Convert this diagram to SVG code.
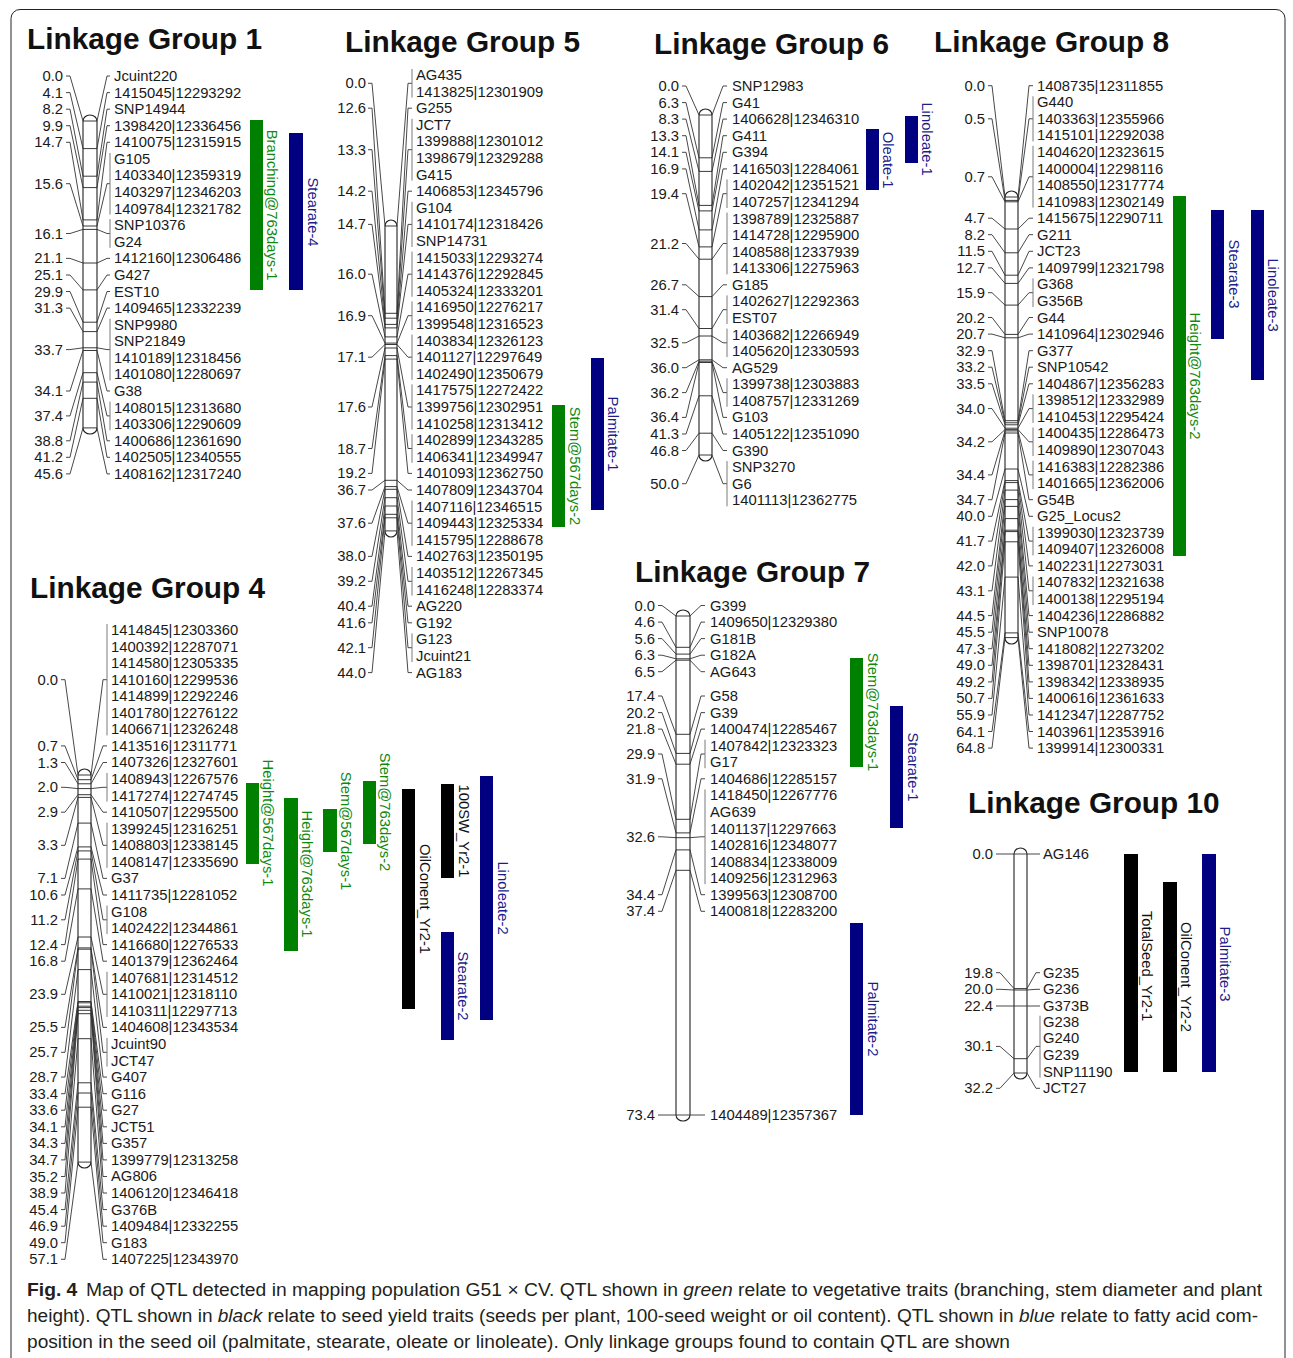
<svg xmlns="http://www.w3.org/2000/svg" width="1293" height="1358" viewBox="0 0 1293 1358">
<style>
text{font-family:"Liberation Sans",Arial,sans-serif}
.t{font-size:14.8px;fill:#1a1a1a;dominant-baseline:central}
.n{font-size:14.8px;fill:#1a1a1a;dominant-baseline:central;text-anchor:end}
.h{font-size:29.8px;font-weight:bold;fill:#111}
.q{font-size:14.8px;text-anchor:middle;dominant-baseline:central}
.qg{fill:#0f8a0f}.qb{fill:#1c1c8c}.qk{fill:#111}
.rg{fill:#008000}.rb{fill:#000080}.rk{fill:#000}
.cn{fill:none;stroke:#333;stroke-width:0.9}
.gl{fill:none;stroke:#7a7a7a;stroke-width:1}
.bar{fill:#fff;stroke:#222;stroke-width:1.1}
.tk{fill:none;stroke:#222;stroke-width:0.9}
.cap{font-family:"Liberation Sans",Arial,sans-serif;font-size:18px;fill:#231f20}
</style>
<rect x="11" y="9.5" width="1274" height="1370" rx="9" fill="none" stroke="#222" stroke-width="1"/>

<!-- Linkage Group 1 -->
<g id="lg1">
<text class="h" x="27" y="49">Linkage Group 1</text>
<rect class="bar" x="83" y="115" width="14" height="319" rx="7" ry="6"/>
<path class="tk" d="M83 121H97M83 148.6H97M83 176.2H97M83 187.6H97M83 219.9H97M83 226H97M83 229.4H97M83 263H97M83 289.9H97M83 322.2H97M83 331.6H97M83 347.8H97M83 350.5H97M83 372.7H97M83 382.1H97M83 398.3H97M83 427.9H97"/>
<g id="lg1-connectors">
<path class="cn" d="M66 76H70L83 121M66 92.6H70L83 148.6M66 109.2H70L83 176.2M66 125.7H70L83 187.6M66 142.3H70L83 219.9M66 183.7H70L83 226M66 233.5H70L83 229.4M66 258.4H70L83 263M66 275H70L83 289.9M66 291.5H70L83 322.2M66 308.1H70L83 331.6M66 349.6H70L83 347.8M66 391H70L83 350.5M66 415.9H70L83 372.7M66 440.8H70L83 382.1M66 457.3H70L83 398.3M66 473.9H70L83 427.9"/>
<path class="cn" d="M97 121L107 76H110M97 148.6L107 92.6H110M97 176.2L107 109.2H110M97 187.6L107 125.7H110M97 219.9L107 142.3H110M97 226L107 183.7H110M97 229.4L107 233.5H110M97 263L107 258.4H110M97 289.9L107 275H110M97 322.2L107 291.5H110M97 331.6L107 308.1H110M97 347.8L107 349.6H110M97 350.5L107 391H110M97 372.7L107 415.9H110M97 382.1L107 440.8H110M97 398.3L107 457.3H110M97 427.9L107 473.9H110"/>
<path class="gl" d="M110 153V214.6M110 219V247.8M110 318.7V380.4M110 401.6V430.2"/>
</g>
<text class="n" x="63" y="76">0.0</text><text class="n" x="63" y="92.6">4.1</text><text class="n" x="63" y="109.2">8.2</text><text class="n" x="63" y="125.7">9.9</text><text class="n" x="63" y="142.3">14.7</text><text class="n" x="63" y="183.7">15.6</text><text class="n" x="63" y="233.5">16.1</text><text class="n" x="63" y="258.4">21.1</text><text class="n" x="63" y="275">25.1</text><text class="n" x="63" y="291.5">29.9</text><text class="n" x="63" y="308.1">31.3</text><text class="n" x="63" y="349.6">33.7</text><text class="n" x="63" y="391">34.1</text><text class="n" x="63" y="415.9">37.4</text><text class="n" x="63" y="440.8">38.8</text><text class="n" x="63" y="457.3">41.2</text><text class="n" x="63" y="473.9">45.6</text>
<text class="t" x="114" y="76"><tspan x="114">Jcuint220</tspan><tspan x="114" dy="16.58">1415045|12293292</tspan><tspan x="114" dy="16.58">SNP14944</tspan><tspan x="114" dy="16.58">1398420|12336456</tspan><tspan x="114" dy="16.58">1410075|12315915</tspan><tspan x="114" dy="16.58">G105</tspan><tspan x="114" dy="16.58">1403340|12359319</tspan><tspan x="114" dy="16.58">1403297|12346203</tspan><tspan x="114" dy="16.58">1409784|12321782</tspan><tspan x="114" dy="16.58">SNP10376</tspan><tspan x="114" dy="16.58">G24</tspan><tspan x="114" dy="16.58">1412160|12306486</tspan><tspan x="114" dy="16.58">G427</tspan><tspan x="114" dy="16.58">EST10</tspan><tspan x="114" dy="16.58">1409465|12332239</tspan><tspan x="114" dy="16.58">SNP9980</tspan><tspan x="114" dy="16.58">SNP21849</tspan><tspan x="114" dy="16.58">1410189|12318456</tspan><tspan x="114" dy="16.58">1401080|12280697</tspan><tspan x="114" dy="16.58">G38</tspan><tspan x="114" dy="16.58">1408015|12313680</tspan><tspan x="114" dy="16.58">1403306|12290609</tspan><tspan x="114" dy="16.58">1400686|12361690</tspan><tspan x="114" dy="16.58">1402505|12340555</tspan><tspan x="114" dy="16.58">1408162|12317240</tspan></text>
<rect class="rg" x="250" y="120" width="13" height="170"/>
<text class="q qg" transform="translate(272 205) rotate(90)">Branching@763days-1</text>
<rect class="rb" x="289" y="133" width="14" height="157"/>
<text class="q qb" transform="translate(313 212) rotate(90)">Stearate-4</text>
</g>

<!-- Linkage Group 5 -->
<g id="lg5">
<text class="h" x="345" y="52">Linkage Group 5</text>
<rect class="bar" x="385" y="220" width="12" height="317" rx="6" ry="6"/>
<path class="tk" d="M385 226H397M385 313.3H397M385 318.2H397M385 324.4H397M385 327.9H397M385 336.9H397M385 343.1H397M385 344.5H397M385 348H397M385 355.6H397M385 359.1H397M385 480.3H397M385 486.6H397M385 489.3H397M385 497.7H397M385 506H397M385 514.3H397M385 517.8H397M385 530.9H397"/>
<g id="lg5-connectors">
<path class="cn" d="M368 83.3H372L385 226M368 108.2H372L385 313.3M368 149.7H372L385 318.2M368 191.2H372L385 324.4M368 224.4H372L385 327.9M368 274.2H372L385 336.9M368 315.7H372L385 343.1M368 357.2H372L385 344.5M368 407H372L385 348M368 448.5H372L385 355.6M368 473.4H372L385 359.1M368 490H372L385 480.3M368 523.2H372L385 486.6M368 556.4H372L385 489.3M368 581.3H372L385 497.7M368 606.2H372L385 506M368 622.8H372L385 514.3M368 647.7H372L385 517.8M368 672.6H372L385 530.9"/>
<path class="cn" d="M397 226L408 83.3H412M397 313.3L408 108.2H412M397 318.2L408 149.7H412M397 324.4L408 191.2H412M397 327.9L408 224.4H412M397 336.9L408 274.2H412M397 343.1L408 315.7H412M397 344.5L408 357.2H412M397 348L408 407H412M397 355.6L408 448.5H412M397 359.1L408 473.4H412M397 480.3L408 490H412M397 486.6L408 523.2H412M397 489.3L408 556.4H412M397 497.7L408 581.3H412M397 506L408 606.2H412M397 514.3L408 622.8H412M397 517.8L408 647.7H412M397 530.9L408 672.6H412"/>
<path class="gl" d="M412 69V97.6M412 118.8V180.6M412 201.8V247M412 251.6V296.8M412 301.4V330M412 334.6V379.8M412 384.4V429.6M412 434.2V462.8M412 500.6V545.8M412 567V595.6M412 633.4V662"/>
</g>
<text class="n" x="366" y="83.3">0.0</text><text class="n" x="366" y="108.2">12.6</text><text class="n" x="366" y="149.7">13.3</text><text class="n" x="366" y="191.2">14.2</text><text class="n" x="366" y="224.4">14.7</text><text class="n" x="366" y="274.2">16.0</text><text class="n" x="366" y="315.7">16.9</text><text class="n" x="366" y="357.2">17.1</text><text class="n" x="366" y="407">17.6</text><text class="n" x="366" y="448.5">18.7</text><text class="n" x="366" y="473.4">19.2</text><text class="n" x="366" y="490">36.7</text><text class="n" x="366" y="523.2">37.6</text><text class="n" x="366" y="556.4">38.0</text><text class="n" x="366" y="581.3">39.2</text><text class="n" x="366" y="606.2">40.4</text><text class="n" x="366" y="622.8">41.6</text><text class="n" x="366" y="647.7">42.1</text><text class="n" x="366" y="672.6">44.0</text>
<text class="t" x="416" y="75"><tspan x="416">AG435</tspan><tspan x="416" dy="16.6">1413825|12301909</tspan><tspan x="416" dy="16.6">G255</tspan><tspan x="416" dy="16.6">JCT7</tspan><tspan x="416" dy="16.6">1399888|12301012</tspan><tspan x="416" dy="16.6">1398679|12329288</tspan><tspan x="416" dy="16.6">G415</tspan><tspan x="416" dy="16.6">1406853|12345796</tspan><tspan x="416" dy="16.6">G104</tspan><tspan x="416" dy="16.6">1410174|12318426</tspan><tspan x="416" dy="16.6">SNP14731</tspan><tspan x="416" dy="16.6">1415033|12293274</tspan><tspan x="416" dy="16.6">1414376|12292845</tspan><tspan x="416" dy="16.6">1405324|12333201</tspan><tspan x="416" dy="16.6">1416950|12276217</tspan><tspan x="416" dy="16.6">1399548|12316523</tspan><tspan x="416" dy="16.6">1403834|12326123</tspan><tspan x="416" dy="16.6">1401127|12297649</tspan><tspan x="416" dy="16.6">1402490|12350679</tspan><tspan x="416" dy="16.6">1417575|12272422</tspan><tspan x="416" dy="16.6">1399756|12302951</tspan><tspan x="416" dy="16.6">1410258|12313412</tspan><tspan x="416" dy="16.6">1402899|12343285</tspan><tspan x="416" dy="16.6">1406341|12349947</tspan><tspan x="416" dy="16.6">1401093|12362750</tspan><tspan x="416" dy="16.6">1407809|12343704</tspan><tspan x="416" dy="16.6">1407116|12346515</tspan><tspan x="416" dy="16.6">1409443|12325334</tspan><tspan x="416" dy="16.6">1415795|12288678</tspan><tspan x="416" dy="16.6">1402763|12350195</tspan><tspan x="416" dy="16.6">1403512|12267345</tspan><tspan x="416" dy="16.6">1416248|12283374</tspan><tspan x="416" dy="16.6">AG220</tspan><tspan x="416" dy="16.6">G192</tspan><tspan x="416" dy="16.6">G123</tspan><tspan x="416" dy="16.6">Jcuint21</tspan><tspan x="416" dy="16.6">AG183</tspan></text>
<rect class="rb" x="591" y="358" width="13" height="152"/>
<text class="q qb" transform="translate(613 434) rotate(90)">Palmitate-1</text>
<rect class="rg" x="552" y="405" width="13" height="122"/>
<text class="q qg" transform="translate(575 466) rotate(90)">Stem@567days-2</text>
</g>

<!-- Linkage Group 6 -->
<g id="lg6">
<text class="h" x="654" y="54">Linkage Group 6</text>
<rect class="bar" x="699" y="109" width="13" height="352" rx="6.5" ry="6"/>
<path class="tk" d="M699 115H712M699 157.8H712M699 171.4H712M699 205.4H712M699 210.9H712M699 229.9H712M699 246.9H712M699 259.2H712M699 296.6H712M699 328.5H712M699 336H712M699 359.8H712M699 361.2H712M699 362.5H712M699 395.8H712M699 433.2H712M699 455H712"/>
<g id="lg6-connectors">
<path class="cn" d="M682 86H686L699 115M682 102.6H686L699 157.8M682 119.1H686L699 171.4M682 135.7H686L699 205.4M682 152.3H686L699 210.9M682 168.9H686L699 229.9M682 193.7H686L699 246.9M682 243.5H686L699 259.2M682 284.8H686L699 296.6M682 309.7H686L699 328.5M682 342.8H686L699 336M682 367.7H686L699 359.8M682 392.6H686L699 361.2M682 417.4H686L699 362.5M682 434H686L699 395.8M682 450.5H686L699 433.2M682 483.7H686L699 455"/>
<path class="cn" d="M712 115L723 86H727M712 157.8L723 102.6H727M712 171.4L723 119.1H727M712 205.4L723 135.7H727M712 210.9L723 152.3H727M712 229.9L723 168.9H727M712 246.9L723 193.7H727M712 259.2L723 243.5H727M712 296.6L723 284.8H727M712 328.5L723 309.7H727M712 336L723 342.8H727M712 359.8L723 367.7H727M712 361.2L723 392.6H727M712 362.5L723 417.4H727M712 395.8L723 434H727M712 433.2L723 450.5H727M712 455L723 483.7H727"/>
<path class="gl" d="M727 179.4V208M727 212.6V274.3M727 295.4V324M727 328.6V357.1M727 378.3V406.8M727 461.1V506.3"/>
</g>
<text class="n" x="679" y="86">0.0</text><text class="n" x="679" y="102.6">6.3</text><text class="n" x="679" y="119.1">8.3</text><text class="n" x="679" y="135.7">13.3</text><text class="n" x="679" y="152.3">14.1</text><text class="n" x="679" y="168.9">16.9</text><text class="n" x="679" y="193.7">19.4</text><text class="n" x="679" y="243.5">21.2</text><text class="n" x="679" y="284.8">26.7</text><text class="n" x="679" y="309.7">31.4</text><text class="n" x="679" y="342.8">32.5</text><text class="n" x="679" y="367.7">36.0</text><text class="n" x="679" y="392.6">36.2</text><text class="n" x="679" y="417.4">36.4</text><text class="n" x="679" y="434">41.3</text><text class="n" x="679" y="450.5">46.8</text><text class="n" x="679" y="483.7">50.0</text>
<text class="t" x="732" y="86"><tspan x="732">SNP12983</tspan><tspan x="732" dy="16.57">G41</tspan><tspan x="732" dy="16.57">1406628|12346310</tspan><tspan x="732" dy="16.57">G411</tspan><tspan x="732" dy="16.57">G394</tspan><tspan x="732" dy="16.57">1416503|12284061</tspan><tspan x="732" dy="16.57">1402042|12351521</tspan><tspan x="732" dy="16.57">1407257|12341294</tspan><tspan x="732" dy="16.57">1398789|12325887</tspan><tspan x="732" dy="16.57">1414728|12295900</tspan><tspan x="732" dy="16.57">1408588|12337939</tspan><tspan x="732" dy="16.57">1413306|12275963</tspan><tspan x="732" dy="16.57">G185</tspan><tspan x="732" dy="16.57">1402627|12292363</tspan><tspan x="732" dy="16.57">EST07</tspan><tspan x="732" dy="16.57">1403682|12266949</tspan><tspan x="732" dy="16.57">1405620|12330593</tspan><tspan x="732" dy="16.57">AG529</tspan><tspan x="732" dy="16.57">1399738|12303883</tspan><tspan x="732" dy="16.57">1408757|12331269</tspan><tspan x="732" dy="16.57">G103</tspan><tspan x="732" dy="16.57">1405122|12351090</tspan><tspan x="732" dy="16.57">G390</tspan><tspan x="732" dy="16.57">SNP3270</tspan><tspan x="732" dy="16.57">G6</tspan><tspan x="732" dy="16.57">1401113|12362775</tspan></text>
<rect class="rb" x="866" y="129" width="13" height="61"/>
<text class="q qb" transform="translate(888 160) rotate(90)">Oleate-1</text>
<rect class="rb" x="905" y="116" width="13" height="47"/>
<text class="q qb" transform="translate(927 139) rotate(90)">Linoleate-1</text>
</g>

<!-- Linkage Group 8 -->
<g id="lg8">
<text class="h" x="934" y="52">Linkage Group 8</text>
<rect class="bar" x="1005" y="191" width="13" height="453" rx="6.5" ry="6"/>
<path class="tk" d="M1005 197H1018M1005 200.4H1018M1005 201.8H1018M1005 229H1018M1005 252.8H1018M1005 275.2H1018M1005 283.4H1018M1005 305.1H1018M1005 334.4H1018M1005 337.8H1018M1005 420.7H1018M1005 422.8H1018M1005 424.8H1018M1005 428.2H1018M1005 429.6H1018M1005 430.9H1018M1005 433H1018M1005 469H1018M1005 480.6H1018M1005 482.6H1018M1005 490.1H1018M1005 499.6H1018M1005 506.4H1018M1005 518.6H1018M1005 530.2H1018M1005 531.6H1018M1005 541.8H1018M1005 577.1H1018M1005 632.9H1018M1005 637.6H1018"/>
<g id="lg8-connectors">
<path class="cn" d="M988 85.7H992L1005 197M988 118.8H992L1005 200.4M988 176.8H992L1005 201.8M988 218.2H992L1005 229M988 234.7H992L1005 252.8M988 251.3H992L1005 275.2M988 267.9H992L1005 283.4M988 292.7H992L1005 305.1M988 317.5H992L1005 334.4M988 334.1H992L1005 337.8M988 350.7H992L1005 420.7M988 367.2H992L1005 422.8M988 383.8H992L1005 424.8M988 408.6H992L1005 428.2M988 441.8H992L1005 429.6M988 474.9H992L1005 430.9M988 499.7H992L1005 433M988 516.3H992L1005 469M988 541.1H992L1005 480.6M988 565.9H992L1005 482.6M988 590.8H992L1005 490.1M988 615.6H992L1005 499.6M988 632.2H992L1005 506.4M988 648.7H992L1005 518.6M988 665.3H992L1005 530.2M988 681.9H992L1005 531.6M988 698.4H992L1005 541.8M988 715H992L1005 577.1M988 731.5H992L1005 632.9M988 748.1H992L1005 637.6"/>
<path class="cn" d="M1018 197L1029 85.7H1033M1018 200.4L1029 118.8H1033M1018 201.8L1029 176.8H1033M1018 229L1029 218.2H1033M1018 252.8L1029 234.7H1033M1018 275.2L1029 251.3H1033M1018 283.4L1029 267.9H1033M1018 305.1L1029 292.7H1033M1018 334.4L1029 317.5H1033M1018 337.8L1029 334.1H1033M1018 420.7L1029 350.7H1033M1018 422.8L1029 367.2H1033M1018 424.8L1029 383.8H1033M1018 428.2L1029 408.6H1033M1018 429.6L1029 441.8H1033M1018 430.9L1029 474.9H1033M1018 433L1029 499.7H1033M1018 469L1029 516.3H1033M1018 480.6L1029 541.1H1033M1018 482.6L1029 565.9H1033M1018 490.1L1029 590.8H1033M1018 499.6L1029 615.6H1033M1018 506.4L1029 632.2H1033M1018 518.6L1029 648.7H1033M1018 530.2L1029 665.3H1033M1018 531.6L1029 681.9H1033M1018 541.8L1029 698.4H1033M1018 577.1L1029 715H1033M1018 632.9L1029 731.5H1033M1018 637.6L1029 748.1H1033"/>
<path class="gl" d="M1033 96.3V141.4M1033 145.9V207.6M1033 278.4V307M1033 394.3V422.9M1033 427.5V456M1033 460.6V489.1M1033 526.8V555.4M1033 576.5V605.1"/>
</g>
<text class="n" x="985" y="85.7">0.0</text><text class="n" x="985" y="118.8">0.5</text><text class="n" x="985" y="176.8">0.7</text><text class="n" x="985" y="218.2">4.7</text><text class="n" x="985" y="234.7">8.2</text><text class="n" x="985" y="251.3">11.5</text><text class="n" x="985" y="267.9">12.7</text><text class="n" x="985" y="292.7">15.9</text><text class="n" x="985" y="317.5">20.2</text><text class="n" x="985" y="334.1">20.7</text><text class="n" x="985" y="350.7">32.9</text><text class="n" x="985" y="367.2">33.2</text><text class="n" x="985" y="383.8">33.5</text><text class="n" x="985" y="408.6">34.0</text><text class="n" x="985" y="441.8">34.2</text><text class="n" x="985" y="474.9">34.4</text><text class="n" x="985" y="499.7">34.7</text><text class="n" x="985" y="516.3">40.0</text><text class="n" x="985" y="541.1">41.7</text><text class="n" x="985" y="565.9">42.0</text><text class="n" x="985" y="590.8">43.1</text><text class="n" x="985" y="615.6">44.5</text><text class="n" x="985" y="632.2">45.5</text><text class="n" x="985" y="648.7">47.3</text><text class="n" x="985" y="665.3">49.0</text><text class="n" x="985" y="681.9">49.2</text><text class="n" x="985" y="698.4">50.7</text><text class="n" x="985" y="715">55.9</text><text class="n" x="985" y="731.5">64.1</text><text class="n" x="985" y="748.1">64.8</text>
<text class="t" x="1037" y="85.7"><tspan x="1037">1408735|12311855</tspan><tspan x="1037" dy="16.56">G440</tspan><tspan x="1037" dy="16.56">1403363|12355966</tspan><tspan x="1037" dy="16.56">1415101|12292038</tspan><tspan x="1037" dy="16.56">1404620|12323615</tspan><tspan x="1037" dy="16.56">1400004|12298116</tspan><tspan x="1037" dy="16.56">1408550|12317774</tspan><tspan x="1037" dy="16.56">1410983|12302149</tspan><tspan x="1037" dy="16.56">1415675|12290711</tspan><tspan x="1037" dy="16.56">G211</tspan><tspan x="1037" dy="16.56">JCT23</tspan><tspan x="1037" dy="16.56">1409799|12321798</tspan><tspan x="1037" dy="16.56">G368</tspan><tspan x="1037" dy="16.56">G356B</tspan><tspan x="1037" dy="16.56">G44</tspan><tspan x="1037" dy="16.56">1410964|12302946</tspan><tspan x="1037" dy="16.56">G377</tspan><tspan x="1037" dy="16.56">SNP10542</tspan><tspan x="1037" dy="16.56">1404867|12356283</tspan><tspan x="1037" dy="16.56">1398512|12332989</tspan><tspan x="1037" dy="16.56">1410453|12295424</tspan><tspan x="1037" dy="16.56">1400435|12286473</tspan><tspan x="1037" dy="16.56">1409890|12307043</tspan><tspan x="1037" dy="16.56">1416383|12282386</tspan><tspan x="1037" dy="16.56">1401665|12362006</tspan><tspan x="1037" dy="16.56">G54B</tspan><tspan x="1037" dy="16.56">G25_Locus2</tspan><tspan x="1037" dy="16.56">1399030|12323739</tspan><tspan x="1037" dy="16.56">1409407|12326008</tspan><tspan x="1037" dy="16.56">1402231|12273031</tspan><tspan x="1037" dy="16.56">1407832|12321638</tspan><tspan x="1037" dy="16.56">1400138|12295194</tspan><tspan x="1037" dy="16.56">1404236|12286882</tspan><tspan x="1037" dy="16.56">SNP10078</tspan><tspan x="1037" dy="16.56">1418082|12273202</tspan><tspan x="1037" dy="16.56">1398701|12328431</tspan><tspan x="1037" dy="16.56">1398342|12338935</tspan><tspan x="1037" dy="16.56">1400616|12361633</tspan><tspan x="1037" dy="16.56">1412347|12287752</tspan><tspan x="1037" dy="16.56">1403961|12353916</tspan><tspan x="1037" dy="16.56">1399914|12300331</tspan></text>
<rect class="rg" x="1173" y="196" width="13" height="360"/>
<text class="q qg" transform="translate(1195 376) rotate(90)">Height@763days-2</text>
<rect class="rb" x="1211" y="210" width="13" height="129"/>
<text class="q qb" transform="translate(1234 274) rotate(90)">Stearate-3</text>
<rect class="rb" x="1251" y="210" width="13" height="170"/>
<text class="q qb" transform="translate(1273 295) rotate(90)">Linoleate-3</text>
</g>

<!-- Linkage Group 4 -->
<g id="lg4">
<text class="h" x="30" y="598">Linkage Group 4</text>
<rect class="bar" x="78" y="769" width="13" height="399" rx="6.5" ry="6"/>
<path class="tk" d="M78 775H91M78 779.7H91M78 783.8H91M78 788.6H91M78 794.7H91M78 797.4H91M78 823.1H91M78 846.9H91M78 850.9H91M78 859.1H91M78 888.9H91M78 937H91M78 947.9H91M78 949.2H91M78 969.6H91M78 1001.5H91M78 1002.8H91M78 1006.2H91M78 1007.6H91M78 1010.3H91M78 1013.7H91M78 1038.7H91M78 1082.8H91M78 1093H91M78 1107.2H91M78 1162.1H91"/>
<g id="lg4-connectors">
<path class="cn" d="M61 679.7H65L78 775M61 745.9H65L78 779.7M61 762.5H65L78 783.8M61 787.3H65L78 788.6M61 812.2H65L78 794.7M61 845.3H65L78 797.4M61 878.4H65L78 823.1M61 895H65L78 846.9M61 919.8H65L78 850.9M61 944.6H65L78 859.1M61 961.2H65L78 888.9M61 994.3H65L78 937M61 1027.4H65L78 947.9M61 1052.3H65L78 949.2M61 1077.1H65L78 969.6M61 1093.7H65L78 1001.5M61 1110.2H65L78 1002.8M61 1126.8H65L78 1006.2M61 1143.4H65L78 1007.6M61 1159.9H65L78 1010.3M61 1176.5H65L78 1013.7M61 1193H65L78 1038.7M61 1209.6H65L78 1082.8M61 1226.2H65L78 1093M61 1242.7H65L78 1107.2M61 1259.3H65L78 1162.1"/>
<path class="cn" d="M91 775L103 679.7H107M91 779.7L103 745.9H107M91 783.8L103 762.5H107M91 788.6L103 787.3H107M91 794.7L103 812.2H107M91 797.4L103 845.3H107M91 823.1L103 878.4H107M91 846.9L103 895H107M91 850.9L103 919.8H107M91 859.1L103 944.6H107M91 888.9L103 961.2H107M91 937L103 994.3H107M91 947.9L103 1027.4H107M91 949.2L103 1052.3H107M91 969.6L103 1077.1H107M91 1001.5L103 1093.7H107M91 1002.8L103 1110.2H107M91 1006.2L103 1126.8H107M91 1007.6L103 1143.4H107M91 1010.3L103 1159.9H107M91 1013.7L103 1176.5H107M91 1038.7L103 1193H107M91 1082.8L103 1209.6H107M91 1093L103 1226.2H107M91 1107.2L103 1242.7H107M91 1162.1L103 1259.3H107"/>
<path class="gl" d="M107 624V735.4M107 773V801.6M107 822.7V867.8M107 905.5V934.1M107 971.8V1016.9M107 1038V1066.6"/>
</g>
<text class="n" x="58" y="679.7">0.0</text><text class="n" x="58" y="745.9">0.7</text><text class="n" x="58" y="762.5">1.3</text><text class="n" x="58" y="787.3">2.0</text><text class="n" x="58" y="812.2">2.9</text><text class="n" x="58" y="845.3">3.3</text><text class="n" x="58" y="878.4">7.1</text><text class="n" x="58" y="895">10.6</text><text class="n" x="58" y="919.8">11.2</text><text class="n" x="58" y="944.6">12.4</text><text class="n" x="58" y="961.2">16.8</text><text class="n" x="58" y="994.3">23.9</text><text class="n" x="58" y="1027.4">25.5</text><text class="n" x="58" y="1052.3">25.7</text><text class="n" x="58" y="1077.1">28.7</text><text class="n" x="58" y="1093.7">33.4</text><text class="n" x="58" y="1110.2">33.6</text><text class="n" x="58" y="1126.8">34.1</text><text class="n" x="58" y="1143.4">34.3</text><text class="n" x="58" y="1159.9">34.7</text><text class="n" x="58" y="1176.5">35.2</text><text class="n" x="58" y="1193">38.9</text><text class="n" x="58" y="1209.6">45.4</text><text class="n" x="58" y="1226.2">46.9</text><text class="n" x="58" y="1242.7">49.0</text><text class="n" x="58" y="1259.3">57.1</text>
<text class="t" x="111" y="630"><tspan x="111">1414845|12303360</tspan><tspan x="111" dy="16.56">1400392|12287071</tspan><tspan x="111" dy="16.56">1414580|12305335</tspan><tspan x="111" dy="16.56">1410160|12299536</tspan><tspan x="111" dy="16.56">1414899|12292246</tspan><tspan x="111" dy="16.56">1401780|12276122</tspan><tspan x="111" dy="16.56">1406671|12326248</tspan><tspan x="111" dy="16.56">1413516|12311771</tspan><tspan x="111" dy="16.56">1407326|12327601</tspan><tspan x="111" dy="16.56">1408943|12267576</tspan><tspan x="111" dy="16.56">1417274|12274745</tspan><tspan x="111" dy="16.56">1410507|12295500</tspan><tspan x="111" dy="16.56">1399245|12316251</tspan><tspan x="111" dy="16.56">1408803|12338145</tspan><tspan x="111" dy="16.56">1408147|12335690</tspan><tspan x="111" dy="16.56">G37</tspan><tspan x="111" dy="16.56">1411735|12281052</tspan><tspan x="111" dy="16.56">G108</tspan><tspan x="111" dy="16.56">1402422|12344861</tspan><tspan x="111" dy="16.56">1416680|12276533</tspan><tspan x="111" dy="16.56">1401379|12362464</tspan><tspan x="111" dy="16.56">1407681|12314512</tspan><tspan x="111" dy="16.56">1410021|12318110</tspan><tspan x="111" dy="16.56">1410311|12297713</tspan><tspan x="111" dy="16.56">1404608|12343534</tspan><tspan x="111" dy="16.56">Jcuint90</tspan><tspan x="111" dy="16.56">JCT47</tspan><tspan x="111" dy="16.56">G407</tspan><tspan x="111" dy="16.56">G116</tspan><tspan x="111" dy="16.56">G27</tspan><tspan x="111" dy="16.56">JCT51</tspan><tspan x="111" dy="16.56">G357</tspan><tspan x="111" dy="16.56">1399779|12313258</tspan><tspan x="111" dy="16.56">AG806</tspan><tspan x="111" dy="16.56">1406120|12346418</tspan><tspan x="111" dy="16.56">G376B</tspan><tspan x="111" dy="16.56">1409484|12332255</tspan><tspan x="111" dy="16.56">G183</tspan><tspan x="111" dy="16.56">1407225|12343970</tspan></text>
<rect class="rg" x="246" y="783" width="13" height="81"/>
<text class="q qg" transform="translate(268 823) rotate(90)">Height@567days-1</text>
<rect class="rg" x="284" y="798" width="14" height="153"/>
<text class="q qg" transform="translate(307 874) rotate(90)">Height@763days-1</text>
<rect class="rg" x="323" y="809" width="14" height="43"/>
<text class="q qg" transform="translate(346 831) rotate(90)">Stem@567days-1</text>
<rect class="rg" x="363" y="781" width="13" height="63"/>
<text class="q qg" transform="translate(385 812) rotate(90)">Stem@763days-2</text>
<rect class="rk" x="402" y="789" width="13" height="220"/>
<text class="q qk" transform="translate(425 899) rotate(90)">OilConent_Yr2-1</text>
<rect class="rk" x="441" y="784" width="13" height="94"/>
<text class="q qk" transform="translate(464 831) rotate(90)">100SW_Yr2-1</text>
<rect class="rb" x="441" y="932" width="13" height="108"/>
<text class="q qb" transform="translate(463 986) rotate(90)">Stearate-2</text>
<rect class="rb" x="480" y="776" width="13" height="244"/>
<text class="q qb" transform="translate(503 898) rotate(90)">Linoleate-2</text>
</g>

<!-- Linkage Group 7 -->
<g id="lg7">
<text class="h" x="635" y="582">Linkage Group 7</text>
<rect class="bar" x="676" y="610" width="14" height="511" rx="7" ry="6"/>
<path class="tk" d="M676 616H690M676 647.3H690M676 654.1H690M676 658.8H690M676 660.2H690M676 734.3H690M676 753.4H690M676 764.2H690M676 819.3H690M676 832.9H690M676 837.7H690M676 849.9H690M676 870.3H690"/>
<g id="lg7-connectors">
<path class="cn" d="M658 605.5H662L676 616M658 622.1H662L676 647.3M658 638.6H662L676 654.1M658 655.2H662L676 658.8M658 671.7H662L676 660.2M658 696H662L676 734.3M658 712.6H662L676 753.4M658 729.1H662L676 764.2M658 754H662L676 819.3M658 778.8H662L676 832.9M658 836.8H662L676 837.7M658 894.7H662L676 849.9M658 911.3H662L676 870.3M658 1115H705"/>
<path class="cn" d="M690 616L701 605.5H705M690 647.3L701 622.1H705M690 654.1L701 638.6H705M690 658.8L701 655.2H705M690 660.2L701 671.7H705M690 734.3L701 696H705M690 753.4L701 712.6H705M690 764.2L701 729.1H705M690 819.3L701 754H705M690 832.9L701 778.8H705M690 837.7L701 836.8H705M690 849.9L701 894.7H705M690 870.3L701 911.3H705"/>
<path class="gl" d="M705 739.7V768.2M705 789.4V884.2"/>
</g>
<text class="n" x="655" y="605.5">0.0</text><text class="n" x="655" y="622.1">4.6</text><text class="n" x="655" y="638.6">5.6</text><text class="n" x="655" y="655.2">6.3</text><text class="n" x="655" y="671.7">6.5</text><text class="n" x="655" y="696">17.4</text><text class="n" x="655" y="712.6">20.2</text><text class="n" x="655" y="729.1">21.8</text><text class="n" x="655" y="754">29.9</text><text class="n" x="655" y="778.8">31.9</text><text class="n" x="655" y="836.8">32.6</text><text class="n" x="655" y="894.7">34.4</text><text class="n" x="655" y="911.3">37.4</text><text class="n" x="655" y="1115">73.4</text>
<text class="t" x="710" y="605.5"><tspan x="710">G399</tspan><tspan x="710" dy="16.56">1409650|12329380</tspan><tspan x="710" dy="16.56">G181B</tspan><tspan x="710" dy="16.56">G182A</tspan><tspan x="710" dy="16.56">AG643</tspan><tspan x="710" dy="24.3">G58</tspan><tspan x="710" dy="16.56">G39</tspan><tspan x="710" dy="16.56">1400474|12285467</tspan><tspan x="710" dy="16.56">1407842|12323323</tspan><tspan x="710" dy="16.56">G17</tspan><tspan x="710" dy="16.56">1404686|12285157</tspan><tspan x="710" dy="16.56">1418450|12267776</tspan><tspan x="710" dy="16.56">AG639</tspan><tspan x="710" dy="16.56">1401137|12297663</tspan><tspan x="710" dy="16.56">1402816|12348077</tspan><tspan x="710" dy="16.56">1408834|12338009</tspan><tspan x="710" dy="16.56">1409256|12312963</tspan><tspan x="710" dy="16.56">1399563|12308700</tspan><tspan x="710" dy="16.56">1400818|12283200</tspan></text>
<text class="t" x="710" y="1115">1404489|12357367</text>
<rect class="rg" x="850" y="658" width="13" height="109"/>
<text class="q qg" transform="translate(873 712) rotate(90)">Stem@763days-1</text>
<rect class="rb" x="890" y="706" width="13" height="122"/>
<text class="q qb" transform="translate(913 767) rotate(90)">Stearate-1</text>
<rect class="rb" x="850" y="923" width="13" height="192"/>
<text class="q qb" transform="translate(873 1019) rotate(90)">Palmitate-2</text>
</g>

<!-- Linkage Group 10 -->
<g id="lg10">
<text class="h" x="968" y="813">Linkage Group 10</text>
<rect class="bar" x="1014" y="848" width="13" height="231" rx="6.5" ry="6"/>
<path class="tk" d="M1014 988.6H1027M1014 990H1027M1014 1058.7H1027M1014 1073H1027"/>
<g id="lg10-connectors">
<path class="cn" d="M996 854H1040M996 972.7H1000L1014 988.6M996 989.3H1000L1014 990M996 1006H1040M996 1046.4H1000L1014 1058.7M996 1088.3H1000L1014 1073"/>
<path class="cn" d="M1027 988.6L1036 972.7H1040M1027 990L1036 989.3H1040M1027 1058.7L1036 1046.4H1040M1027 1073L1036 1088.3H1040"/>
<path class="gl" d="M1040 1015.7V1077.6"/>
</g>
<text class="n" x="993" y="854">0.0</text><text class="n" x="993" y="972.7">19.8</text><text class="n" x="993" y="989.3">20.0</text><text class="n" x="993" y="1005.5">22.4</text><text class="n" x="993" y="1046.4">30.1</text><text class="n" x="993" y="1088.3">32.2</text>
<text class="t" x="1043" y="854">AG146</text>
<text class="t" x="1043" y="972.7"><tspan x="1043">G235</tspan><tspan x="1043" dy="16.6">G236</tspan><tspan x="1043" dy="16.2">G373B</tspan><tspan x="1043" dy="16.2">G238</tspan><tspan x="1043" dy="16.6">G240</tspan><tspan x="1043" dy="16.6">G239</tspan><tspan x="1043" dy="16.6">SNP11190</tspan><tspan x="1043" dy="16.6">JCT27</tspan></text>
<rect class="rk" x="1124" y="854" width="14" height="218"/>
<text class="q qk" transform="translate(1147 966) rotate(90)">TotalSeed_Yr2-1</text>
<rect class="rk" x="1163" y="882" width="14" height="190"/>
<text class="q qk" transform="translate(1186 977) rotate(90)">OilConent_Yr2-2</text>
<rect class="rb" x="1202" y="854" width="14" height="218"/>
<text class="q qb" transform="translate(1225 964) rotate(90)">Palmitate-3</text>
</g>

<!-- Caption -->
<g id="caption">
<text class="cap" x="27" y="1296" textLength="1235" lengthAdjust="spacingAndGlyphs"><tspan font-weight="bold">Fig. 4</tspan><tspan dx="8">Map of QTL detected in mapping population G51 × CV. QTL shown in </tspan><tspan font-style="italic">green</tspan><tspan> relate to vegetative traits (branching, stem diameter and plant</tspan></text>
<text class="cap" x="27" y="1322" textLength="1231" lengthAdjust="spacingAndGlyphs">height). QTL shown in <tspan font-style="italic">black</tspan> relate to seed yield traits (seeds per plant, 100-seed weight or oil content). QTL shown in <tspan font-style="italic">blue</tspan> relate to fatty acid com-</text>
<text class="cap" x="27" y="1348" textLength="983" lengthAdjust="spacingAndGlyphs">position in the seed oil (palmitate, stearate, oleate or linoleate). Only linkage groups found to contain QTL are shown</text>
</g>
</svg>
